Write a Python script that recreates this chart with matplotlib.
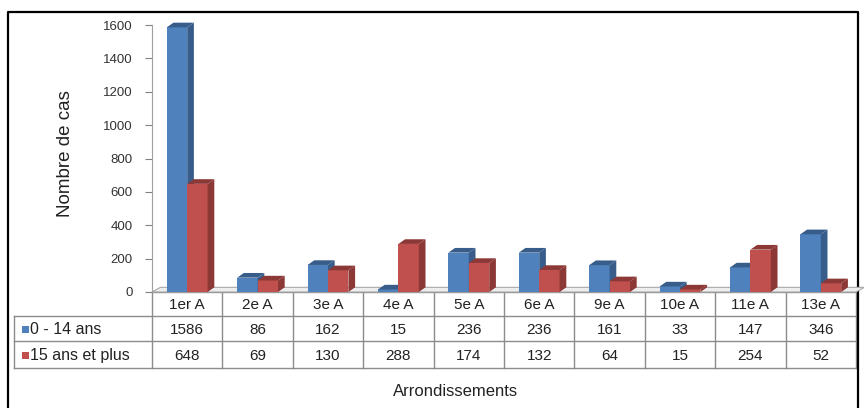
import matplotlib.pyplot as plt
from matplotlib.patches import Polygon, Rectangle

plt.rcParams['font.family'] = ['Liberation Sans', 'DejaVu Sans']

arrondissements = ['1er A', '2e A', '3e A', '4e A', '5e A', '6e A', '9e A', '10e A', '11e A', '13e A']
enfants = [1586, 86, 162, 15, 236, 236, 161, 33, 147, 346]
adultes = [648, 69, 130, 288, 174, 132, 64, 15, 254, 52]
series_names = ['0 - 14 ans', '15 ans et plus']

blue, blue_side = '#4F81BD', '#385D8A'
red, red_side = '#C0504D', '#8C3836'
grid = '#8c8c8c'

W, H = 864, 408
fig = plt.figure(figsize=(W / 100, H / 100), dpi=100)

# overlay in pixel coords for table, frame, labels
ov = fig.add_axes([0, 0, 1, 1])
ov.set_xlim(0, W)
ov.set_ylim(H, 0)
ov.axis('off')

# plot area in pixels
left, right, top, zero = 152, 856, 25, 292
ax = fig.add_axes([left / W, 1 - zero / H, (right - left) / W, (zero - top) / H])
ax.set_xlim(0, len(arrondissements))
ax.set_ylim(0, 1600)
ax.patch.set_alpha(0)

n = len(arrondissements)
bw = 0.29
dx = 0.095
dy = 28


def bar3d(x0, h, col, side):
    x1 = x0 + bw
    ax.add_patch(Rectangle((x0, 0), bw, h, facecolor=col, edgecolor='none', clip_on=False, zorder=3))
    ax.add_patch(Polygon([(x1, 0), (x1 + dx, dy), (x1 + dx, h + dy), (x1, h)],
                         facecolor=side, edgecolor='none', clip_on=False, zorder=3))
    ax.add_patch(Polygon([(x0, h), (x0 + dx, h + dy), (x1 + dx, h + dy), (x1, h)],
                         facecolor=side, edgecolor='none', clip_on=False, zorder=3))


# floor
ax.add_patch(Polygon([(0, 0), (0.12, dy), (n + 0.12, dy), (n, 0)], facecolor='#ededed',
                     edgecolor='#a8a8a8', lw=0.8, clip_on=False, zorder=2))

for i in range(n):
    c = i + 0.5
    bar3d(c - bw, enfants[i], blue, blue_side)
    bar3d(c, adultes[i], red, red_side)

for s in ['top', 'right', 'bottom']:
    ax.spines[s].set_visible(False)
ax.spines['left'].set_color('#a0a0a0')
ax.spines['left'].set_bounds(0, 1600)
ax.set_yticks(range(0, 1601, 200))
ax.tick_params(axis='y', colors='#808080', length=5, labelsize=9.5, labelcolor='#333333', pad=9)
ax.set_xticks([])
ax.set_ylabel('Nombre de cas', fontsize=13.5, color='#222222')
ax.yaxis.set_label_coords((74 - left) / (right - left), 0.52)

# data table drawn by hand
colw = (right - left) / n
ys = [292, 316, 341, 368]
lab_left = 14
ov.plot([left, right], [ys[0], ys[0]], color=grid, lw=1)
for y in ys[1:]:
    ov.plot([lab_left, right], [y, y], color=grid, lw=1)
for j in range(n + 1):
    xj = left + j * colw
    ov.plot([xj, xj], [ys[0], ys[-1]], color=grid, lw=1)
ov.plot([lab_left, lab_left], [ys[1], ys[-1]], color=grid, lw=1)

for j, name in enumerate(arrondissements):
    xc = left + (j + 0.5) * colw
    ov.text(xc, (ys[0] + ys[1]) / 2 + 1, name, ha='center', va='center', fontsize=11, color='#222222')
for k, (name, vals, col) in enumerate(zip(series_names, [enfants, adultes], [blue, red])):
    yc = (ys[k + 1] + ys[k + 2]) / 2 + 1
    ov.add_patch(Rectangle((22, yc - 4), 7, 7, facecolor=col, edgecolor='none'))
    ov.text(30, yc, name, ha='left', va='center', fontsize=11.5, color='#222222')
    for j, v in enumerate(vals):
        ov.text(left + (j + 0.5) * colw, yc, str(v), ha='center', va='center',
                fontsize=11, color='#222222')

ov.text(456, 392, 'Arrondissements', ha='center', va='center', fontsize=12, color='#222222')

# outer frame
ov.plot([8, 8, 858, 858], [H + 5, 12, 12, H + 5], color='black', lw=1.6, clip_on=False)

fig.savefig('out.png', dpi=100)
